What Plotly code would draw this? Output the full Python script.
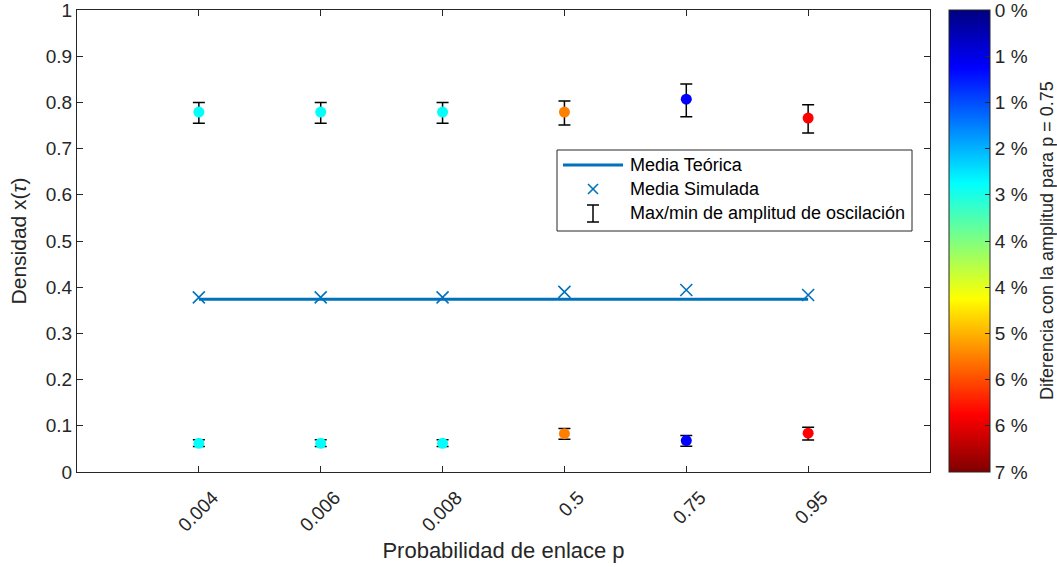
import plotly.graph_objects as go

# Link probabilities (categorical x axis)
p_labels = ["0.004", "0.006", "0.008", "0.5", "0.75", "0.95"]

# Upper oscillation level: value, max, min
upper_mid = [0.779, 0.779, 0.779, 0.779, 0.807, 0.766]
upper_max = [0.800, 0.800, 0.800, 0.803, 0.840, 0.795]
upper_min = [0.755, 0.755, 0.755, 0.751, 0.769, 0.734]

# Lower oscillation level: value, max, min
lower_mid = [0.062, 0.062, 0.062, 0.083, 0.068, 0.084]
lower_max = [0.070, 0.070, 0.070, 0.094, 0.079, 0.097]
lower_min = [0.055, 0.055, 0.055, 0.071, 0.056, 0.069]

# Simulated mean and theoretical mean
sim_mean = [0.378, 0.378, 0.378, 0.390, 0.394, 0.383]
theory_mean = 0.374

# Amplitude difference relative to p = 0.75 (%)
amp_diff = [2.63, 2.63, 2.63, 5.25, 0.875, 6.125]

cbar_vals = [0, 0.7, 1.4, 2.1, 2.8, 3.5, 4.2, 4.9, 5.6, 6.3, 7.0]
cbar_text = ["0 %", "1 %", "1 %", "2 %", "3 %", "4 %", "4 %", "5 %", "6 %", "6 %", "7 %"]

y_ticks = [0, 0.1, 0.2, 0.3, 0.4, 0.5, 0.6, 0.7, 0.8, 0.9, 1]
y_ticktext = ["0", "0.1", "0.2", "0.3", "0.4", "0.5", "0.6", "0.7", "0.8", "0.9", "1"]

xs = list(range(1, len(p_labels) + 1))
BLUE = "#0072BD"
AX = "#262626"
FONT = "Liberation Sans, Arial, Helvetica, sans-serif"

# jet colormap, reversed so that 0 % sits at the top of the colorbar
jet_rev = [
    [0.0, "rgb(128,0,0)"],
    [0.125, "rgb(255,0,0)"],
    [0.375, "rgb(255,255,0)"],
    [0.625, "rgb(0,255,255)"],
    [0.875, "rgb(0,0,255)"],
    [1.0, "rgb(0,0,128)"],
]
neg_diff = [-d for d in amp_diff]

fig = go.Figure()

# theoretical mean line
fig.add_trace(go.Scatter(
    x=[xs[0], xs[-1]], y=[theory_mean, theory_mean], mode="lines",
    line=dict(color=BLUE, width=3), showlegend=False, hoverinfo="skip"))

# simulated mean crosses
fig.add_trace(go.Scatter(
    x=xs, y=sim_mean, mode="markers",
    marker=dict(symbol="x-thin-open", size=12, color=BLUE, line=dict(color=BLUE, width=1.6)),
    showlegend=False))


def level_trace(mid, hi, lo, show_bar):
    marker = dict(
        symbol="circle", size=11, color=neg_diff, colorscale=jet_rev,
        cmin=-7, cmax=0, line=dict(width=0), showscale=show_bar)
    if show_bar:
        marker["colorbar"] = dict(
            x=(949 - 77) / 853, xanchor="left", xpad=0, ypad=0,
            y=0.5, yanchor="middle", len=1, lenmode="fraction",
            thickness=41, outlinecolor=AX, outlinewidth=1,
            ticks="inside", ticklen=5, tickcolor=AX, ticklabeloverflow="allow",
            tickvals=[-v for v in cbar_vals], ticktext=cbar_text,
            tickfont=dict(size=19, color=AX, family=FONT))
    return go.Scatter(
        x=xs, y=mid, mode="markers", marker=marker, showlegend=False,
        error_y=dict(type="data", symmetric=False,
                     array=[h - m for h, m in zip(hi, mid)],
                     arrayminus=[m - l for m, l in zip(mid, lo)],
                     color="black", thickness=1.5, width=6))


fig.add_trace(level_trace(upper_mid, upper_max, upper_min, True))
fig.add_trace(level_trace(lower_mid, lower_max, lower_min, False))


# hand-built legend box (paper coordinates from pixel positions in the plot area)
def px(x):
    return (x - 77) / 853


def py(y):
    return (472 - y) / 462


shapes = [
    dict(type="rect", xref="paper", yref="paper", x0=px(557), x1=px(912), y0=py(231), y1=py(150),
         line=dict(color=AX, width=1), fillcolor="white", layer="above"),
    dict(type="line", xref="paper", yref="paper", x0=px(563), x1=px(623), y0=py(165), y1=py(165),
         line=dict(color=BLUE, width=3), layer="above"),
    dict(type="line", xref="paper", yref="paper", x0=px(588), x1=px(598), y0=py(184), y1=py(194),
         line=dict(color=BLUE, width=1.6), layer="above"),
    dict(type="line", xref="paper", yref="paper", x0=px(588), x1=px(598), y0=py(194), y1=py(184),
         line=dict(color=BLUE, width=1.6), layer="above"),
    dict(type="line", xref="paper", yref="paper", x0=px(593), x1=px(593), y0=py(205), y1=py(222),
         line=dict(color="black", width=1.5), layer="above"),
    dict(type="line", xref="paper", yref="paper", x0=px(587), x1=px(599), y0=py(205), y1=py(205),
         line=dict(color="black", width=1.5), layer="above"),
    dict(type="line", xref="paper", yref="paper", x0=px(587), x1=px(599), y0=py(222), y1=py(222),
         line=dict(color="black", width=1.5), layer="above"),
]
legend_text = ["Media Teórica", "Media Simulada", "Max/min de amplitud de oscilación"]
legend_y = [165, 189, 213]
annotations = [
    dict(text=t, xref="paper", yref="paper", x=px(628), y=py(yy), xanchor="left", yanchor="middle",
         showarrow=False, font=dict(size=18, color="black", family=FONT))
    for t, yy in zip(legend_text, legend_y)
]
# colorbar caption
annotations.append(dict(
    text="Diferencia con la amplitud para p = 0.75", xref="paper", yref="paper",
    x=px(1047), y=py(241), xanchor="center", yanchor="middle", textangle=-90,
    showarrow=False, font=dict(size=18, color=AX, family=FONT)))

fig.update_layout(
    width=1057, height=567,
    margin=dict(l=77, r=127, t=10, b=95, autoexpand=False),
    paper_bgcolor="white", plot_bgcolor="white",
    font=dict(family=FONT, color=AX, size=19),
    shapes=shapes, annotations=annotations,
    showlegend=False,
)
fig.update_xaxes(
    range=[0, 7], tickvals=xs, ticktext=p_labels, tickangle=-45,
    ticks="inside", ticklen=6, tickcolor=AX, mirror="ticks", showline=True,
    linecolor=AX, linewidth=1, showgrid=False, zeroline=False,
    tickfont=dict(size=19, color=AX), ticklabelstandoff=6, ticklabelshift=14,
    ticklabeloverflow="allow",
    title=dict(text="Probabilidad de enlace p", font=dict(size=22, color=AX), standoff=8))
fig.update_yaxes(
    range=[0, 1], tickvals=y_ticks, ticktext=y_ticktext,
    ticks="inside", ticklen=6, tickcolor=AX, mirror="ticks", showline=True,
    linecolor=AX, linewidth=1, showgrid=False, zeroline=False,
    tickfont=dict(size=19, color=AX), ticklabelstandoff=0, ticklabeloverflow="allow",
    title=dict(text="Densidad x(<i>τ</i>)", font=dict(size=21, color=AX), standoff=13))

fig.write_html("out.html")
